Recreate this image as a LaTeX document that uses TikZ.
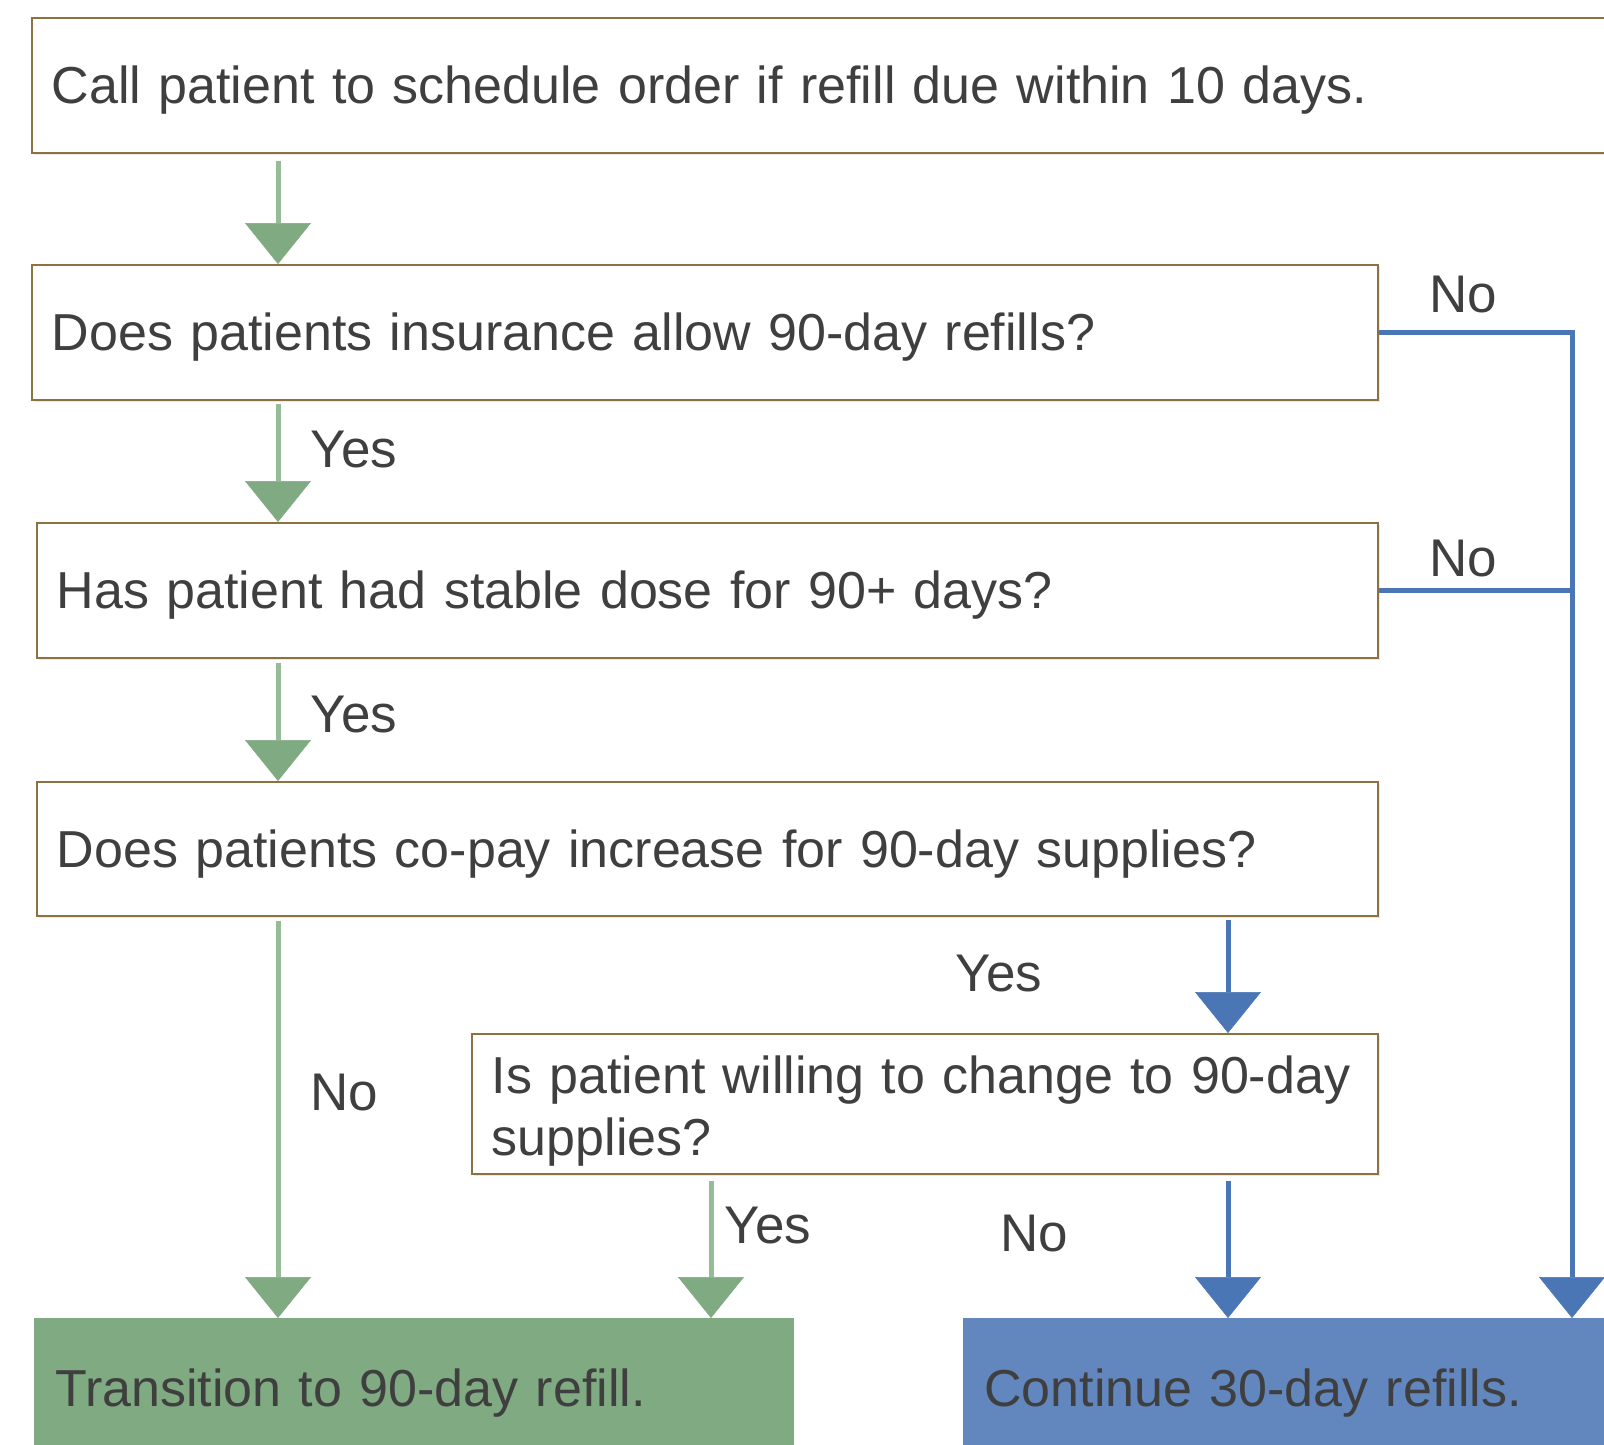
\documentclass[tikz,border=0pt]{standalone}
\usepackage{fontspec}
\setmainfont{Liberation Sans}
\usetikzlibrary{arrows.meta,shadows}
\definecolor{boxbrown}{HTML}{8C7240}
\definecolor{txt}{HTML}{3F3F3F}
\definecolor{ghead}{HTML}{7FAA82}
\definecolor{gline}{HTML}{95BC97}
\definecolor{bline}{HTML}{4A76B5}
\definecolor{bfill}{HTML}{6287BE}
\newcommand\bigtxt{\fontsize{53}{61}\selectfont}
\newcommand\boxtxt{\fontsize{52}{62}\selectfont}
\tikzset{
  box/.style={draw=boxbrown, line width=1.6pt, fill=white, anchor=north west,
    inner xsep=20pt, inner ysep=0pt, align=left, font=\boxtxt, text=txt,
    text height=37pt, text depth=0pt,
    drop shadow={shadow xshift=2pt, shadow yshift=-2pt, opacity=0.18}},
  endbox/.style={anchor=north west, inner xsep=21pt, inner ysep=0pt, align=left,
    font=\boxtxt, text=txt, text height=37pt, text depth=0pt},
  lbl/.style={font=\bigtxt, text=txt, text depth=0pt, inner sep=0pt},
  garrow/.style={draw=gline, line width=5pt,
    -{Triangle[width=66pt,length=41pt,color=ghead,line width=0.5pt]}},
  barrow/.style={draw=bline, line width=5pt,
    -{Triangle[width=66pt,length=41pt,color=bline,line width=0.5pt]}},
  bline/.style={draw=bline, line width=5pt},
}
\begin{document}
\begin{tikzpicture}[x=1pt,y=-1pt]
\useasboundingbox (0,0) rectangle (1604,1445);
\fill[white] (0,0) rectangle (1604,1445);
% columns
\coordinate (cA) at (278,0);
\coordinate (cB) at (711,0);
\coordinate (cC) at (1228,0);
\coordinate (cD) at (1572,0);
% boxes
\node[box, text width=1549pt, minimum height=135pt] (b1) at (31,17)
  {Call patient to schedule order if refill due within 10 days.};
\node[box, text width=1306pt, minimum height=135pt] (b2) at (31,264)
  {Does patients insurance allow 90-day refills?};
\node[box, text width=1301pt, minimum height=135pt] (b3) at (36,522)
  {Has patient had stable dose for 90+ days?};
\node[box, text width=1301pt, minimum height=134pt] (b4) at (36,781)
  {Does patients co-pay increase for 90-day supplies?};
\node[box, text width=866pt, minimum height=140pt, text height={}, text depth={}] (b5) at (471,1033)
  {\rule{0pt}{53pt}\mbox{Is patient willing to change to 90-day}\\supplies?};
\node[endbox, fill=ghead, text width=718pt, minimum height=140pt] (g) at (34,1318)
  {Transition to 90-day refill.};
\node[endbox, fill=bfill, text width=615pt, minimum height=140pt] (bl) at (963,1318)
  {Continue 30-day refills.};
% green connectors
\draw[garrow, shorten <=7pt] (b1.south -| cA) -- (b2.north -| cA);
\draw[garrow, shorten <=3pt] (b2.south -| cA) -- (b3.north -| cA);
\draw[garrow, shorten <=4pt] (b3.south -| cA) -- (b4.north -| cA);
\draw[garrow, shorten <=4pt] (b4.south -| cA) -- (g.north -| cA);
\draw[garrow, shorten <=6pt] (b5.south -| cB) -- (g.north -| cB);
% blue connectors
\draw[barrow, shorten <=3pt] (b4.south -| cC) -- (b5.north -| cC);
\draw[barrow, shorten <=6pt] (b5.south -| cC) -- (bl.north -| cC);
\draw[barrow] (b2.east) -- (b2.east -| cD) -- (bl.north -| cD);
\draw[bline] (b3.east) -- (b3.east -| cD);
% labels
\node[lbl] (l1) at (354,449) {Yes};
\node[lbl] (l2) at (354,714) {Yes};
\node[lbl] (l3) at (344,1092) {No};
\node[lbl] (l4) at (999,973) {Yes};
\node[lbl] (l5) at (768,1225) {Yes};
\node[lbl] (l6) at (1034,1233) {No};
\node[lbl] (l7) at (1463,294) {No};
\node[lbl] (l8) at (1463,558) {No};
\end{tikzpicture}
\end{document}
